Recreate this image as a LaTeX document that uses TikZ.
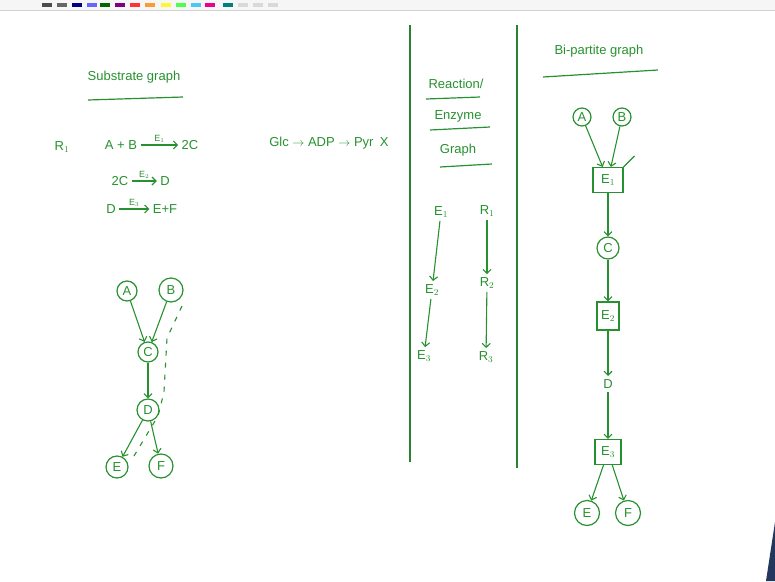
\documentclass[tikz,border=0pt]{standalone}
\usepackage{fontspec}
\setmainfont{Liberation Sans}
\usetikzlibrary{arrows.meta}
\definecolor{ink}{RGB}{38,145,46}
\definecolor{rule}{RGB}{40,130,50}
\definecolor{corner}{RGB}{35,55,95}
\tikzset{
  hand/.style={text=ink, font=\fontsize{13}{15}\selectfont},
  subnode/.style={circle, draw=ink, line width=1.2pt, inner sep=1pt, minimum size=20pt, hand},
  enzbox/.style={rectangle, draw=ink, line width=1.2pt, inner sep=2pt, minimum width=26pt, minimum height=25pt, hand},
  edge/.style={->, draw=ink, line width=1.1pt},
  uline/.style={draw=ink, line width=1.2pt},
  small/.style={font=\fontsize{9}{10}\selectfont, inner sep=1pt}
}
\begin{document}
\begin{tikzpicture}[x=1pt, y=-1pt, node distance=68pt, >={Straight Barb[length=4pt,width=8pt]}, every node/.style={hand}]
  \useasboundingbox (0,0) rectangle (775,581);
  % toolbar strip
  \fill[gray!7] (0,0) rectangle (775,10);
  \draw[gray!35] (0,10) -- (775,10);
  \foreach \xx/\cc in {42/black!70, 57/black!60, 72/blue!50!black, 87/blue!60, 100/green!40!black, 115/violet, 130/red!80, 145/orange!80, 161/yellow!80, 176/green!70, 191/cyan!70, 205/magenta, 223/teal, 238/gray!30, 253/gray!30, 268/gray!30}
    \fill[\cc] (\xx,3) rectangle ++(10,4);
  % dividers
  \draw[rule, line width=1.3pt] (410,25) -- (410,462);
  \draw[rule, line width=1.3pt] (517,25) -- (517,468);
  \fill[corner] (775,522) -- (775,581) -- (766,581) -- cycle;

  % substrate graph
  \node (subtitle) at (134,77) {Substrate graph};
  \draw[uline] (88,100) -- (183,97);
  \node (r1) at (62,147) {R$_1$};
  \node (ab) at (121,145) {A + B};
  \node (c2) at (190,145) {2C};
  \draw[edge] (ab) -- node[above=1pt, small] {E$_1$} (c2);
  \node (c2b) at (120,181) {2C};
  \node (dd) at (165,181) {D};
  \draw[edge] (c2b) -- node[above=1pt, small] {E$_2$} (dd);
  \node (d3) at (111,209) {D};
  \node (ef) at (165,209) {E+F};
  \draw[edge] (d3) -- node[above=1pt, small] {E$_3$} (ef);

  \node[subnode] (a) at (127,291) {A};
  \node[subnode, minimum size=24pt] (b) at (171,290) {B};
  \node[subnode] (c) at (148,352) {C};
  \node[subnode, minimum size=22pt] (d) at (148,410) {D};
  \node[subnode, minimum size=22pt] (e) at (117,467) {E};
  \node[subnode, minimum size=24pt] (f) at (161,466) {F};
  \draw[edge] (a) -- (c);
  \draw[edge] (b) -- (c);
  \draw[edge] (c) -- (d);
  \draw[edge] (d) -- (e);
  \draw[edge] (d) -- (f);
  \draw[ink, line width=1.1pt, dash pattern=on 5pt off 7pt] (182,306) -- (167,338) -- (164,392) -- (158,416) -- (131,461);

  % pathway
  \node (pathway) at (329,143) {Glc $\rightarrow$ ADP $\rightarrow$ Pyr\enspace X};

  % reaction / enzyme graph
  \node (rtitle) at (456,84) {Reaction/};
  \draw[uline] (426,99) -- (480,97);
  \node (etitle) at (458,116) {Enzyme};
  \draw[uline] (430,130) -- (490,127);
  \node (gtitle) at (458,150) {Graph};
  \draw[uline] (440,167) -- (492,164);
  \node (e1) at (441,212) {E$_1$};
  \node (e2) at (432,290) {E$_2$};
  \node (e3) at (424,356) {E$_3$};
  \node (rr1) at (487,211) {R$_1$};
  \node (rr2) at (487,283) {R$_2$};
  \node (rr3) at (486,357) {R$_3$};
  \draw[edge] (e1) -- (e2);
  \draw[edge] (e2) -- (e3);
  \draw[edge] (rr1) -- (rr2);
  \draw[edge] (rr2) -- (rr3);

  % bi-partite graph
  \node (btitle) at (599,51) {Bi-partite graph};
  \draw[uline] (543,77) -- (658,70);
  \node[subnode, minimum size=18pt] (ba) at (582,117) {A};
  \node[subnode, minimum size=18pt] (bb) at (622,117) {B};
  \node[enzbox, minimum width=30pt] (be1) at (608,180) {E$_1$};
  \node[subnode, minimum size=22pt, below of=be1] (bc) {C};
  \node[enzbox, minimum width=22pt, minimum height=28pt, below of=bc] (be2) {E$_2$};
  \node[below of=be2] (bd) {D};
  \node[enzbox, below of=bd] (be3) {E$_3$};
  \node[subnode, minimum size=25pt] (be) at (587,513) {E};
  \node[subnode, minimum size=25pt] (bf) at (628,513) {F};
  \draw[edge] (ba) -- (be1);
  \draw[edge] (bb) -- (be1);
  \draw[ink, line width=1.1pt] (be1.north east) -- ++(11,-11);
  \draw[edge] (be1) -- (bc);
  \draw[edge] (bc) -- (be2);
  \draw[edge] (be2) -- (bd);
  \draw[edge] (bd) -- (be3);
  \draw[edge] (be3) -- (be);
  \draw[edge] (be3) -- (bf);
\end{tikzpicture}
\end{document}
